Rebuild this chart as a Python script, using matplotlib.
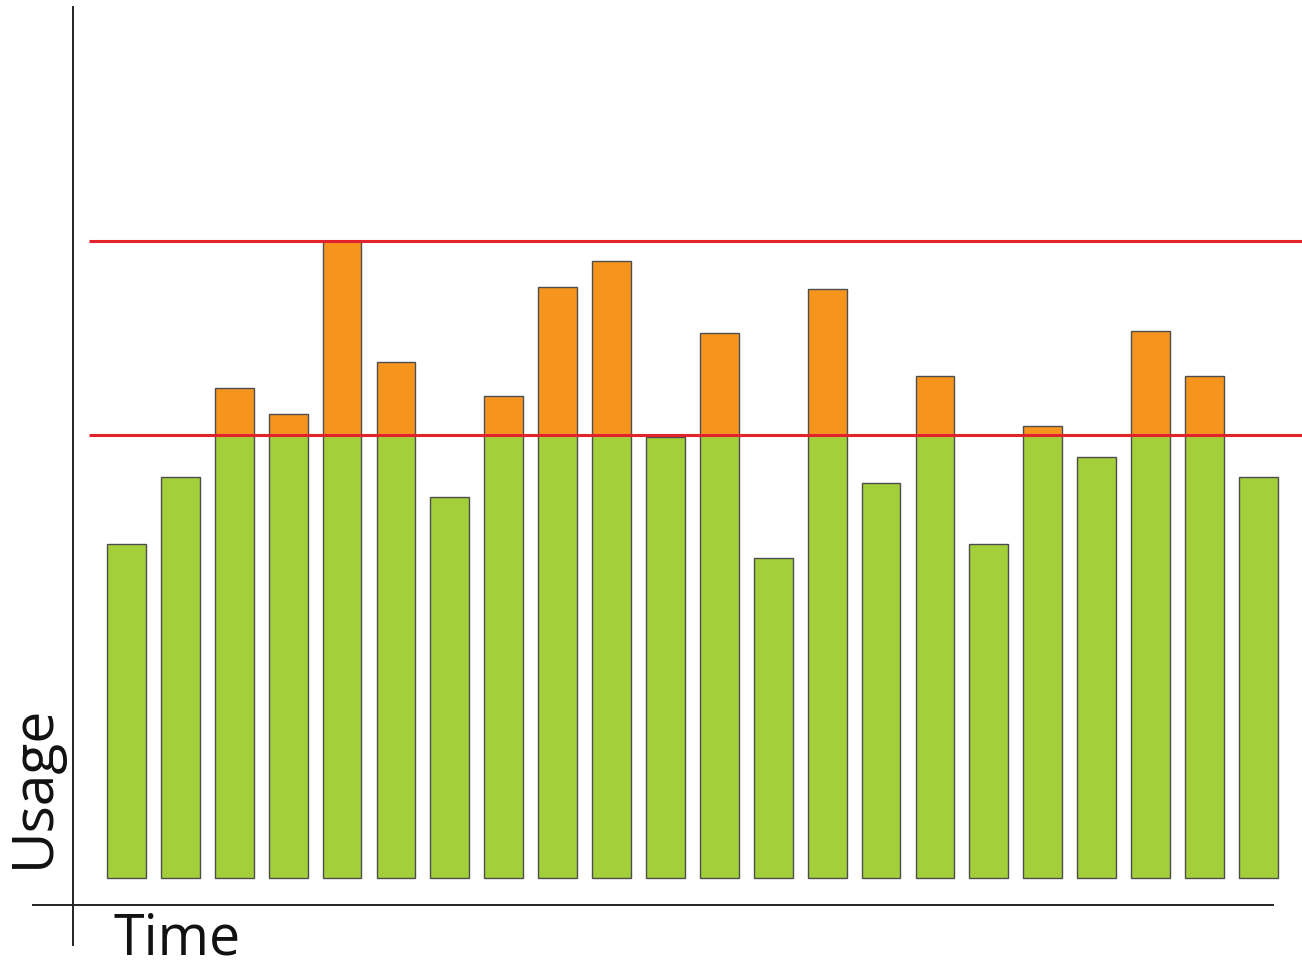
import numpy as np
import matplotlib.pyplot as plt

# usage per time slot (lower limit = 100)
usage = [75.4, 90.5, 110.6, 104.7, 143.8, 116.5, 86.0, 108.8, 133.4, 139.3, 99.5,
         123.0, 72.2, 133.0, 89.2, 113.3, 75.4, 102.0, 95.0, 123.5, 113.3, 90.5]
low_limit = 100
high_limit = 143.8

green = '#a3cf3b'
orange = '#f7941d'
red = '#e2232b'

usage = np.array(usage)
x = np.arange(len(usage))
base = np.minimum(usage, low_limit)
over = np.maximum(usage - low_limit, 0)

fig = plt.figure(figsize=(13.02, 9.66), dpi=100)
ax = fig.add_axes([0, 0, 1, 1])
ax.set_xlim(-2.347, 21.81)
ax.set_ylim(-19.9, 198.2)
ax.axis('off')

ax.bar(x, base, width=0.72, color=green, edgecolor='#4d4d4d', linewidth=1, zorder=2)
ax.bar(x[over > 0], over[over > 0], bottom=low_limit, width=0.72, color=orange,
       edgecolor='#4d4d4d', linewidth=1, zorder=2)

for lim in [low_limit, high_limit]:
    ax.plot([-0.696, 21.81], [lim, lim], color=red, linewidth=2.2, zorder=3,
            solid_capstyle='butt')

# hand drawn style axes
ax.plot([-0.993, -0.993], [-15.1, 196.6], color='#222222', linewidth=1.4)
ax.plot([-1.735, 21.27], [-6.1, -6.1], color='#222222', linewidth=1.4)

ax.text(-1.70, 2.3, 'Usage', rotation=90, ha='center', va='bottom',
        fontsize=41, family='Open Sans', color='#111111')
ax.text(-0.25, -17.2, 'Time', ha='left', va='baseline',
        fontsize=40, family='Open Sans', color='#111111')

fig.savefig('out.png', dpi=100)
